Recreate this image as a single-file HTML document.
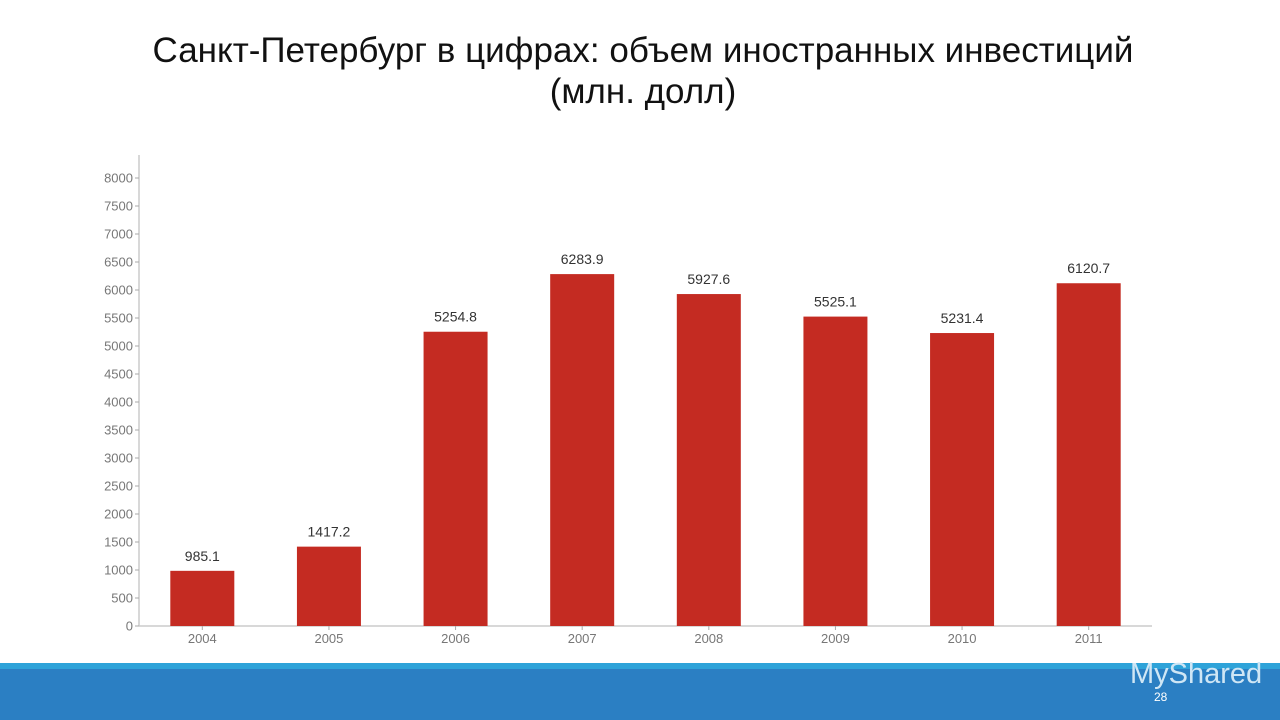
<!DOCTYPE html>
<html><head><meta charset="utf-8"><style>
body{margin:0;width:1280px;height:720px;background:#fff;overflow:hidden;font-family:"Liberation Sans",sans-serif;position:relative}
#title{position:absolute;left:0;top:30px;width:1286px;text-align:center;font-size:35px;line-height:41px;color:#111}
#band1{position:absolute;left:0;top:663px;width:1280px;height:6px;background:#2ea3d9}
#band2{position:absolute;left:0;top:669px;width:1280px;height:51px;background:#2b7fc3}
#logo{position:absolute;left:1130px;top:658px;font-size:29px;color:#cfe6f5}
#page{position:absolute;left:1154px;top:690px;font-size:12px;color:#fff}
</style></head><body>
<div id="title">Санкт-Петербург в цифрах: объем иностранных инвестиций<br>(млн. долл)</div>
<svg id="chart" width="1280" height="720" style="position:absolute;left:0;top:0"></svg>
<div id="band1"></div>
<div id="band2"></div>
<div id="logo">MyShared</div>
<div id="page">28</div>
<script>
const categories=["2004","2005","2006","2007","2008","2009","2010","2011"];
const values=[985.1,1417.2,5254.8,6283.9,5927.6,5525.1,5231.4,6120.7];
const yTicks=[0,500,1000,1500,2000,2500,3000,3500,4000,4500,5000,5500,6000,6500,7000,7500,8000];
const NS="http://www.w3.org/2000/svg";
const svg=document.getElementById('chart');
const x0=139,x1=1152,y0=626,yTop=178;
const y=v=>y0-(v/8000)*(y0-yTop);
const step=(x1-x0)/categories.length;
const xc=i=>x0+step*(i+0.5);
function mk(t,a){const e=document.createElementNS(NS,t);for(const k in a)e.setAttribute(k,a[k]);svg.appendChild(e);return e;}
let ax=mk('line',{x1:x0,y1:155,x2:x0,y2:y0,stroke:'#ccc','stroke-width':1.5});


let bx=mk('line',{x1:x0,y1:y0,x2:x1,y2:y0,stroke:'#ccc','stroke-width':1.5});


yTicks.forEach(v=>{
 mk('line',{x1:x0-4,y1:y(v),x2:x0,y2:y(v),stroke:'#aaa'});
 const t=mk('text',{x:x0-6,y:y(v)+4.5,'text-anchor':'end','font-size':13,fill:'#777'});
 t.textContent=v;
 
 
});
values.forEach((v,i)=>{
 const w=64;
 const r=mk('rect',{x:xc(i)-w/2,y:y(v),width:w,height:y0-y(v),fill:'#c42b22'});
 
 
 const l=mk('text',{x:xc(i),y:y(v)-10,'text-anchor':'middle','font-size':14,fill:'#333'});
 l.textContent=v.toFixed(1);
 
 
 mk('line',{x1:xc(i),y1:y0,x2:xc(i),y2:y0+4,stroke:'#aaa'});
 const c=mk('text',{x:xc(i),y:y0+17,'text-anchor':'middle','font-size':13,fill:'#777'});
 c.textContent=categories[i];
 
 
});
</script>
</body></html>
